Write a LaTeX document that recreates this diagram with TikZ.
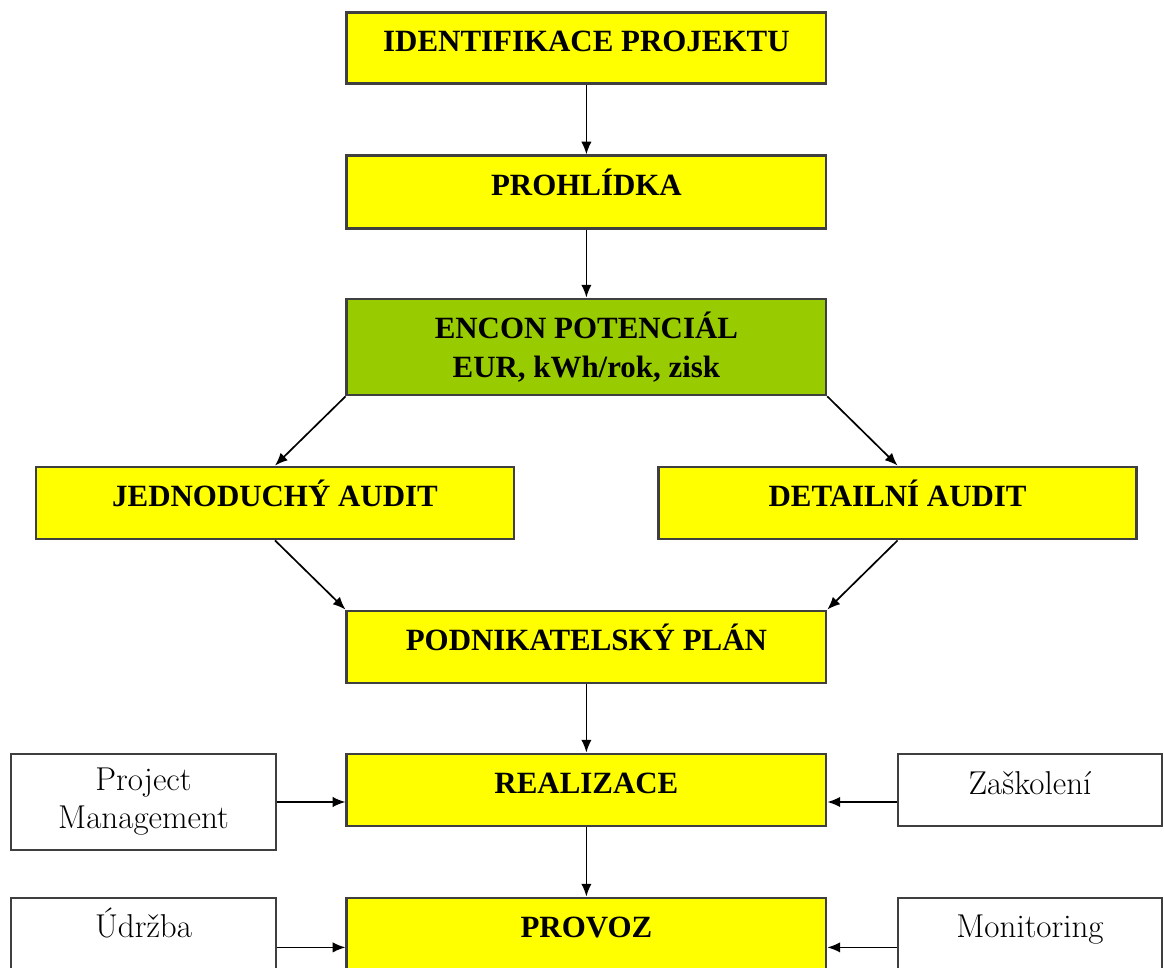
\documentclass[tikz,border=0pt]{standalone}
\usepackage{fontspec}
\newfontfamily\capfont{Liberation Serif}
\usetikzlibrary{arrows.meta}
\usetikzlibrary{positioning}

\definecolor{boxyellow}{HTML}{FFFF00}
\definecolor{boxgreen}{HTML}{99CC00}
\definecolor{boxline}{HTML}{3F3F3F}

\begin{document}
\begin{tikzpicture}[
    phase/.style={draw=boxline, line width=2pt, fill=boxyellow, minimum width=11.975cm,
      minimum height=1.8cm, text height=0.55cm, text depth=0.37cm,
      font=\capfont\fontsize{22}{26}\selectfont\bfseries},
    side/.style={draw=boxline, line width=2pt, fill=white, minimum width=6.625cm,
      minimum height=1.8cm, align=center, font=\fontsize{23.5}{27}\selectfont},
    arr/.style={-{Latex[length=0.32cm,width=0.26cm]}, line width=1.2pt, black}
  ]

  \useasboundingbox (0,0) rectangle (29.1,24.2);

  % ---------- Main column ----------

  % Boxes
  \node[phase, minimum height=1.775cm] at (14.66, 22.99) (ident) {IDENTIFIKACE PROJEKTU};
  \node[phase, minimum height=1.825cm] at (14.66, 19.39) (prohl) {PROHLÍDKA};
  \node[phase, fill=boxgreen, minimum height=2.4cm, text height=, text depth=, align=center,
    font=\capfont\fontsize{22}{27.5}\selectfont\bfseries] at (14.66, 15.525) (encon)
    {ENCON POTENCIÁL\\EUR, kWh/rok, zisk};
  \node[phase, minimum width=11.95cm] at (6.875, 11.625) (jedn) {JEDNODUCHÝ AUDIT};
  \node[phase, minimum width=11.95cm] at (22.44, 11.625) (det) {DETAILNÍ AUDIT};
  \node[phase] at (14.66, 8.025) (podn) {PODNIKATELSKÝ PLÁN};
  \node[phase] at (14.66, 4.45) (real) {REALIZACE};
  \node[phase] at (14.66, 0.85) (provoz) {PROVOZ};

  % ---------- Side boxes ----------
  \node[side, minimum height=2.4cm] at (3.5875, 4.15) (pm) {Project\\Management};
  \node[side, minimum width=6.6cm, text height=0.55cm, text depth=0.3cm] at (25.75, 4.45) (zas) {Zaškolení};
  \node[side, text height=0.55cm, text depth=0.37cm] at (3.5875, 0.85) (udrzba) {Údržba};
  \node[side, minimum width=6.6cm, text height=0.55cm, text depth=0.37cm] at (25.75, 0.85) (monit) {Monitoring};

  % ---------- Arrows ----------
  \draw[arr] (ident) -- (prohl);
  \draw[arr] (prohl) -- (encon);
  \draw[arr] (encon.south west) -- (jedn.north);
  \draw[arr] (encon.south east) -- (det.north);
  \draw[arr] (jedn.south) -- (podn.north west);
  \draw[arr] (det.south) -- (podn.north east);
  \draw[arr] (podn) -- (real);
  \draw[arr] (real) -- (provoz);

  \draw[arr] (pm.east) -- (pm.east -| real.west);
  \draw[arr] (zas.west |- pm.east) -- (real.east |- pm.east);
  \coordinate (low) at ([yshift=0.6cm]udrzba.south east);
  \draw[arr] (low) -- (low -| provoz.west);
  \draw[arr] (monit.west |- low) -- (provoz.east |- low);
\end{tikzpicture}
\end{document}
